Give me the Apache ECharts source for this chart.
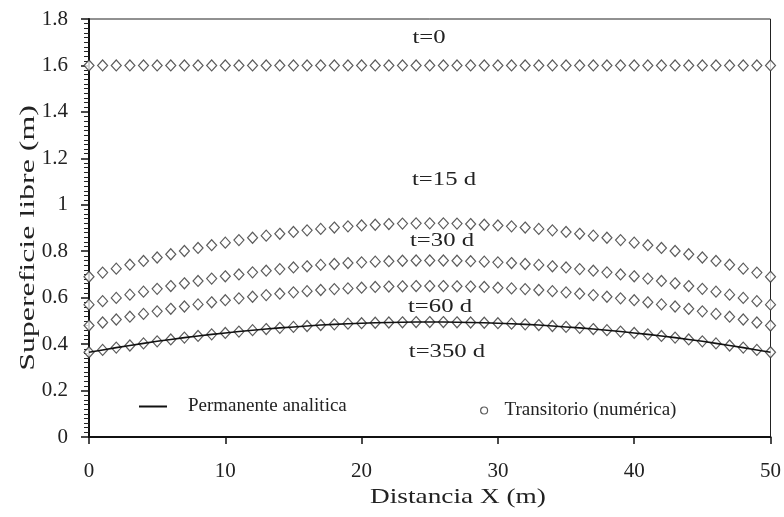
<!DOCTYPE html>
<html>
<head>
<meta charset="utf-8">
<script src="https://cdn.jsdelivr.net/npm/echarts@6/dist/echarts.min.js"></script>
<style>
  html, body { margin: 0; padding: 0; background: #fff; }
  #chart { width: 784px; height: 517px; }
</style>
</head>
<body>
<div id="chart"></div>
<script>
// distancia X (m), 0..50 cada 1 m
const distancia = [0,1,2,3,4,5,6,7,8,9,10,11,12,13,14,15,16,17,18,19,20,21,22,23,24,25,
  26,27,28,29,30,31,32,33,34,35,36,37,38,39,40,41,42,43,44,45,46,47,48,49,50];

// superficie libre (m)
const t0 = [1.6,1.6,1.6,1.6,1.6,1.6,1.6,1.6,1.6,1.6,1.6,1.6,1.6,1.6,1.6,1.6,1.6,1.6,1.6,1.6,1.6,1.6,1.6,1.6,1.6,1.6,
  1.6,1.6,1.6,1.6,1.6,1.6,1.6,1.6,1.6,1.6,1.6,1.6,1.6,1.6,1.6,1.6,1.6,1.6,1.6,1.6,1.6,1.6,1.6,1.6,1.6];
const t15 = [0.690,0.708,0.725,0.742,0.758,0.773,0.787,0.801,0.814,0.826,0.837,0.848,0.858,0.867,0.875,0.883,0.890,0.896,0.902,0.907,0.911,0.914,0.917,0.919,0.920,0.920,
  0.920,0.919,0.917,0.914,0.911,0.907,0.902,0.896,0.890,0.883,0.875,0.867,0.858,0.848,0.837,0.826,0.814,0.801,0.787,0.773,0.758,0.742,0.725,0.708,0.690];
const t30 = [0.570,0.585,0.599,0.613,0.626,0.638,0.650,0.662,0.672,0.682,0.692,0.700,0.709,0.716,0.723,0.730,0.735,0.741,0.745,0.749,0.752,0.755,0.757,0.759,0.760,0.760,
  0.760,0.759,0.757,0.755,0.752,0.749,0.745,0.741,0.735,0.730,0.723,0.716,0.709,0.700,0.692,0.682,0.672,0.662,0.650,0.638,0.626,0.613,0.599,0.585,0.570];
const t60 = [0.480,0.493,0.506,0.518,0.530,0.541,0.552,0.562,0.571,0.580,0.589,0.597,0.604,0.611,0.617,0.623,0.628,0.633,0.637,0.640,0.643,0.646,0.648,0.649,0.650,0.650,
  0.650,0.649,0.648,0.646,0.643,0.640,0.637,0.633,0.628,0.623,0.617,0.611,0.604,0.597,0.589,0.580,0.571,0.562,0.552,0.541,0.530,0.518,0.506,0.493,0.480];
const t350 = [0.365,0.375,0.385,0.394,0.403,0.412,0.420,0.428,0.435,0.442,0.448,0.454,0.460,0.465,0.470,0.474,0.478,0.482,0.485,0.488,0.490,0.492,0.493,0.494,0.495,0.495,
  0.495,0.494,0.493,0.492,0.490,0.488,0.485,0.482,0.478,0.474,0.470,0.465,0.460,0.454,0.448,0.442,0.435,0.428,0.420,0.412,0.403,0.394,0.385,0.375,0.365];
// solucion permanente analitica (coincide con t=350 d)
const permanente = [0.365,0.375,0.385,0.394,0.403,0.412,0.420,0.428,0.435,0.442,0.448,0.454,0.460,0.465,0.470,0.474,0.478,0.482,0.485,0.488,0.490,0.492,0.493,0.494,0.495,0.495,
  0.495,0.494,0.493,0.492,0.490,0.488,0.485,0.482,0.478,0.474,0.470,0.465,0.460,0.454,0.448,0.442,0.435,0.428,0.420,0.412,0.403,0.394,0.385,0.375,0.365];

const xTicks = [0, 10, 20, 30, 40, 50];
const yTicks = [0, 0.2, 0.4, 0.6, 0.8, 1, 1.2, 1.4, 1.6, 1.8];
const curvas = [t0, t15, t30, t60, t350];
const etiquetas = ['t=0', 't=15 d', 't=30 d', 't=60 d', 't=350 d'];

const FONT = '"Liberation Serif", "DejaVu Serif", serif';
const nameTrans = 'Transitorio (numérica)';
const nameAnal = 'Permanente analitica';

function pares(ys) {
  return distancia.map((x, i) => [x, ys[i]]);
}

const myChart = echarts.init(document.getElementById('chart'));

const series = curvas.map(c => ({
  name: nameTrans,
  type: 'scatter',
  symbol: 'diamond',
  symbolSize: [10, 11],
  clip: false,
  itemStyle: { color: '#fff', borderColor: '#333', borderWidth: 1.2 },
  data: pares(c),
  z: 3
}));
series.push({
  name: nameAnal,
  type: 'line',
  symbol: 'none',
  clip: false,
  lineStyle: { color: '#111', width: 1.6 },
  data: pares(permanente),
  z: 4
});

const option = {
  backgroundColor: '#fff',
  animation: false,
  textStyle: { fontFamily: FONT },
  grid: {
    left: 89, right: 11, top: 19, bottom: 80,
    show: true, borderColor: '#222', borderWidth: 1
  },
  xAxis: {
    type: 'value',
    min: 0, max: 50, interval: 10,
    axisLine: { lineStyle: { color: '#111', width: 2 } },
    axisTick: { inside: false, length: 7, lineStyle: { color: '#111', width: 1.5 } },
    axisLabel: {
      margin: 24, fontFamily: FONT, fontSize: 21, color: '#222',
      formatter: v => xTicks.includes(v) ? String(v) : ''
    },
    splitLine: { show: false }
  },
  yAxis: {
    type: 'value',
    min: 0, max: 1.8, interval: 0.2,
    axisLine: { lineStyle: { color: '#111', width: 2 } },
    axisTick: { length: 8, lineStyle: { color: '#111', width: 1.5 } },
    minorTick: { show: true, splitNumber: 10, length: 5, lineStyle: { color: '#222', width: 1 } },
    axisLabel: {
      margin: 21, fontFamily: FONT, fontSize: 21, color: '#222',
      formatter: v => {
        const t = yTicks.find(y => Math.abs(y - v) < 1e-6);
        return t === undefined ? '' : String(t);
      }
    },
    splitLine: { show: false }
  },
  legend: [
    {
      data: [{ name: nameAnal, icon: 'rect' }],
      left: 134, top: 392,
      itemWidth: 28, itemHeight: 2,
      itemStyle: { color: '#111' },
      textStyle: { fontFamily: FONT, fontSize: 19, color: '#222', padding: [0, 0, 0, 16] },
      selectedMode: false
    },
    {
      data: [{ name: nameTrans, icon: 'circle' }],
      left: 475, top: 396,
      itemWidth: 7, itemHeight: 7,
      itemStyle: { color: '#fff', borderColor: '#333', borderWidth: 1.2 },
      textStyle: { fontFamily: FONT, fontSize: 19, color: '#222', padding: [0, 0, 0, 12] },
      selectedMode: false
    }
  ],
  series: series
};

myChart.setOption(option);

// titulos de ejes y etiquetas de tiempo (texto algo ensanchado como en el original)
const posEtiquetas = [[429, 38], [444, 180], [442, 241], [440, 307], [447, 352]];
const textos = etiquetas.map((txt, i) => ({
  type: 'text',
  x: posEtiquetas[i][0],
  y: posEtiquetas[i][1],
  scaleX: 1.3,
  z: 10,
  style: { text: txt, font: '19px ' + FONT, fill: '#222', align: 'center', verticalAlign: 'middle' }
}));
textos.push({
  type: 'text',
  x: 458, y: 497,
  scaleX: 1.3,
  style: { text: 'Distancia X (m)', font: '21px ' + FONT, fill: '#222', align: 'center', verticalAlign: 'middle' }
});
textos.push({
  type: 'text',
  x: 28, y: 238,
  rotation: Math.PI / 2,
  scaleX: 1.45,
  style: { text: 'Supereficie libre (m)', font: '22px ' + FONT, fill: '#222', align: 'center', verticalAlign: 'middle' }
});
myChart.setOption({ graphic: textos });
</script>
</body>
</html>
